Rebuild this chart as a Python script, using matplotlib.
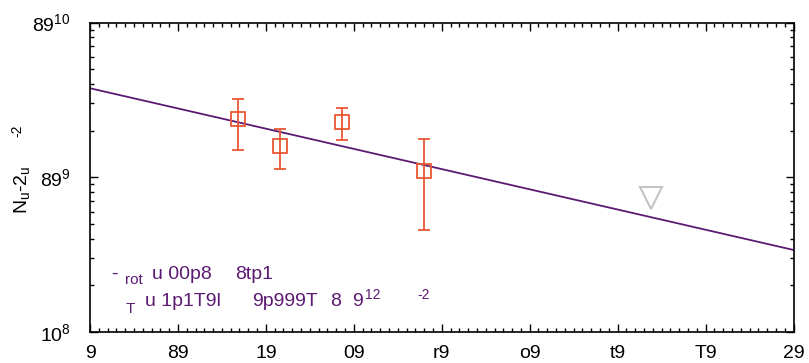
import matplotlib
matplotlib.use("Agg")
import matplotlib.pyplot as plt
import matplotlib.ticker as mticker

# data
X_TICKS = [0, 10, 20, 30, 40, 50, 60, 70, 80]
X_TICK_LABELS = ["9", "89", "19", "09", "r9", "o9", "t9", "T9", "29"]
Y_TICKS = [1e8, 1e9, 1e10]
Y_TICK_LABELS = [r"$\mathregular{10^{8}}$", r"$\mathregular{89^{9}}$", r"$\mathregular{89^{10}}$"]

fit_x = [0, 80]
fit_y = [3.76e9, 3.39e8]

pts_x = [16.85, 21.6, 28.6, 38.0]
pts_y = [2.37e9, 1.59e9, 2.27e9, 1.10e9]
pts_lo = [1.50e9, 1.13e9, 1.73e9, 4.55e8]
pts_hi = [3.20e9, 2.05e9, 2.79e9, 1.76e9]

limit_x = [63.75]
limit_y = [7.3e8]

PURPLE = "#5c1a72"
ORANGE = "#ea5734"
GREY = "#c4c4c4"

W, H = 809, 363

plt.rcParams.update({
    "font.family": ["Liberation Sans", "DejaVu Sans"],
    "font.size": 14,
    "mathtext.default": "regular",
})

fig = plt.figure(figsize=(W / 100, H / 100), dpi=100)
ax = fig.add_axes([90 / W, (H - 332) / H, 703.5 / W, (332 - 22.5) / H])

ax.plot(fit_x, fit_y, color=PURPLE, lw=1.3, zorder=2)

yerr = [[y - lo for y, lo in zip(pts_y, pts_lo)], [hi - y for y, hi in zip(pts_y, pts_hi)]]
ax.errorbar(pts_x, pts_y, yerr=yerr, fmt="s", ms=10, mfc="none", mec=ORANGE,
            mew=1.3, ecolor=ORANGE, elinewidth=1.3, capsize=4, capthick=1.3, zorder=3)

ax.plot(limit_x, limit_y, "v", ms=16, mfc="none", mec=GREY, mew=1.5, zorder=3)

ax.set_yscale("log")
ax.set_xlim(0, 80)
ax.set_ylim(1e8, 1e10)
ax.set_xticks(X_TICKS)
ax.set_xticklabels(X_TICK_LABELS)
ax.xaxis.set_minor_locator(mticker.MultipleLocator(1))
ax.set_yticks(Y_TICKS)
ax.set_yticklabels(Y_TICK_LABELS)
ax.yaxis.set_minor_locator(mticker.LogLocator(base=10, subs=range(2, 10)))
ax.yaxis.set_minor_formatter(mticker.NullFormatter())

ax.tick_params(which="both", direction="in", top=True, right=True, width=1)
ax.tick_params(which="major", length=6)
ax.tick_params(which="minor", length=3)
ax.tick_params(axis="x", which="major", pad=9, labelsize=14)
ax.tick_params(axis="y", which="major", pad=14, labelsize=14)
for s in ax.spines.values():
    s.set_linewidth(1.2)

# y label, rotated
fig.text(22 / W, 1 - 190 / H, r"N$_{u}$-2$_{u}$", rotation=90, ha="center", va="center",
         fontsize=14)
fig.text(17 / W, 1 - 131 / H, "-2", rotation=90, ha="center", va="center", fontsize=10)


def px_text(x, y, s, size=14, **kw):
    fig.text(x / W, 1 - y / H, s, fontsize=size, color=PURPLE, ha="left", va="baseline", **kw)


# annotation, line 1
px_text(111, 279, "-")
px_text(125, 284, "rot", size=11)
px_text(152, 279, "u 00p8")
px_text(235, 279, "8tp1")

# line 2
px_text(126, 313, "T", size=11)
px_text(145, 306, "u 1p1T9l")
px_text(252, 306, "9p999T")
px_text(330, 306, "8")
px_text(352, 306, "9")
px_text(365, 299, "12", size=10)
px_text(417, 299, "-2", size=10)

fig.savefig("out.png", dpi=100)
